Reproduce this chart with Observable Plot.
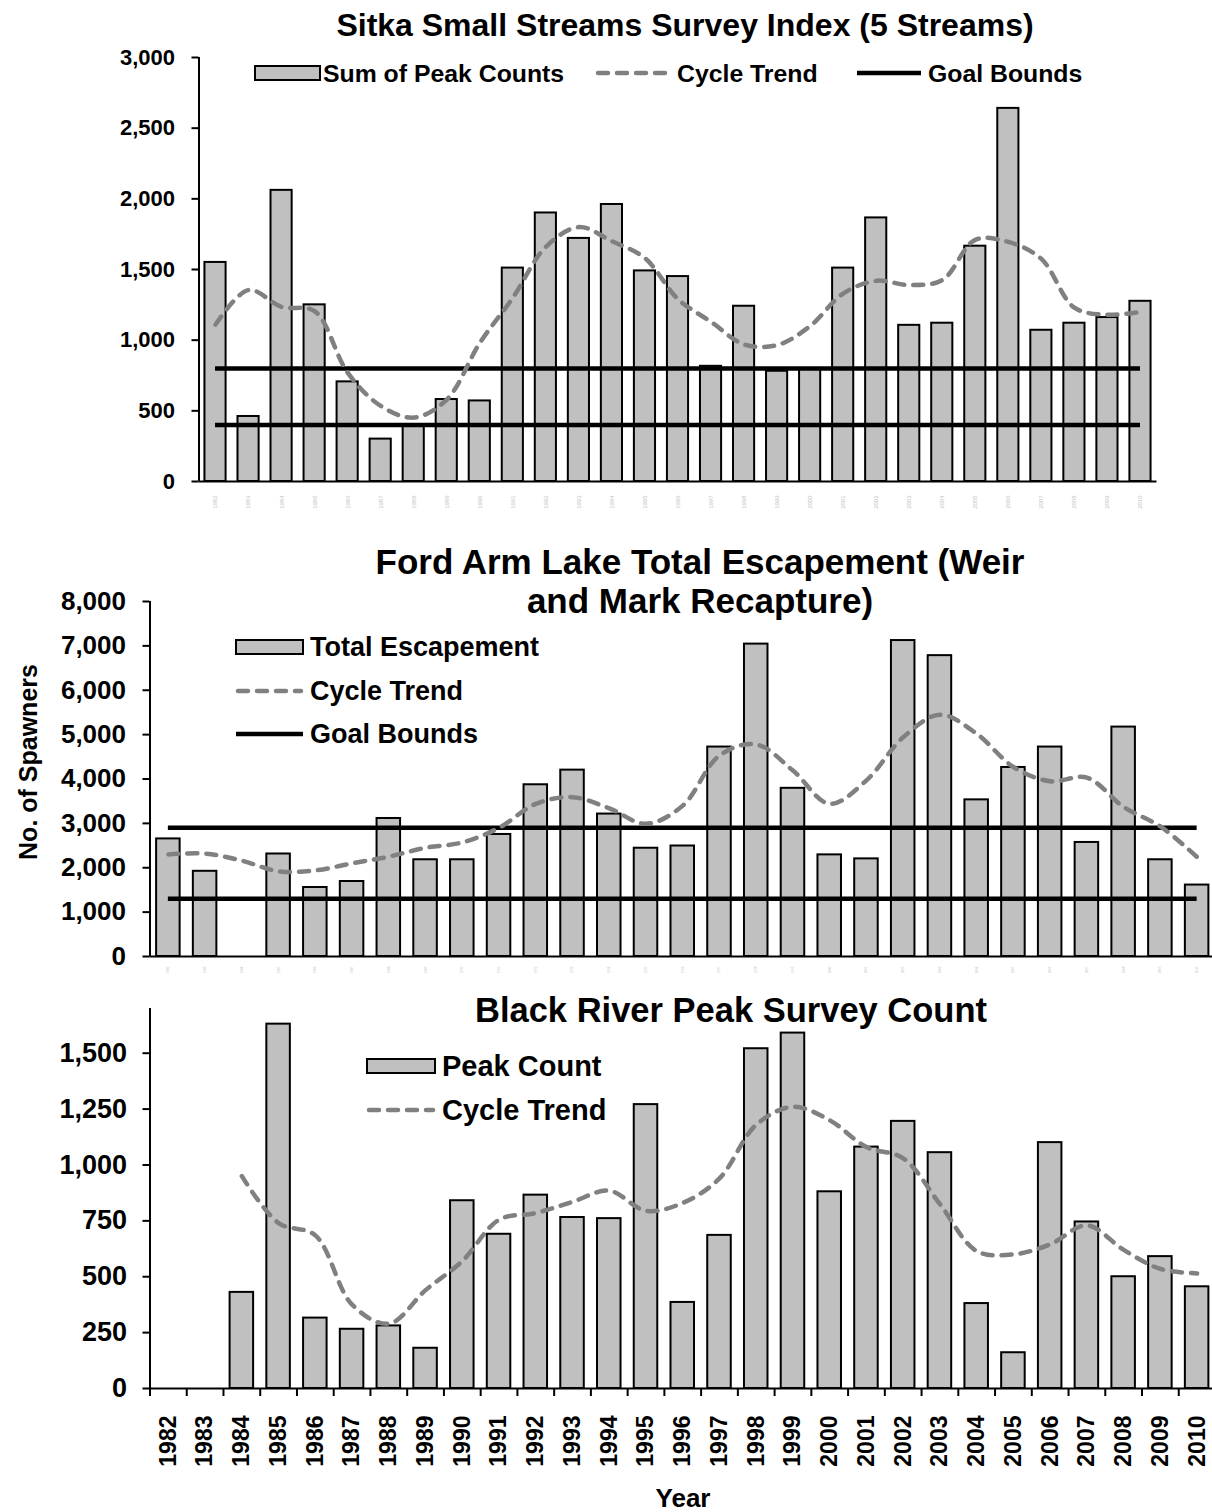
<!DOCTYPE html>
<html><head><meta charset="utf-8">
<script src="https://cdn.jsdelivr.net/npm/d3@7"></script>
<script src="https://cdn.jsdelivr.net/npm/@observablehq/plot@0.6"></script>
<style>
html,body{margin:0;padding:0;background:#fff;}
#root{position:relative;width:1212px;height:1512px;overflow:hidden;background:#fff;font-family:"Liberation Sans",Arial,sans-serif;}
#root svg.panel{position:absolute;left:0;}
#overlay{position:absolute;left:0;top:0;pointer-events:none;}
</style></head><body><div id="root"></div>
<script>
// ---------- data ----------
const years = [1982,1983,1984,1985,1986,1987,1988,1989,1990,1991,1992,1993,1994,1995,1996,1997,1998,1999,2000,2001,2002,2003,2004,2005,2006,2007,2008,2009,2010];

const sitkaCounts = [1550,460,2060,1250,705,300,395,580,570,1510,1900,1720,1960,1490,1450,815,1240,780,795,1510,1865,1105,1120,1665,2640,1070,1120,1160,1275];
const sitkaTrend  = [1110,1355,1235,1205,770,535,452,580,980,1300,1660,1800,1700,1580,1290,1130,970,965,1100,1330,1420,1390,1425,1710,1695,1575,1230,1180,1200];
const sitkaGoal   = [400, 800];
const sitkaTicks  = [0,500,1000,1500,2000,2500,3000];

const fordCounts = [2650,1920,null,2310,1555,1690,3110,2180,2180,2750,3870,4200,3210,2440,2490,4720,7040,3790,2290,2200,7120,6780,3530,4260,4720,2570,5170,2180,1610];
const fordTrend  = [2300,2320,2160,1920,1940,2100,2250,2450,2570,2900,3440,3590,3340,2990,3400,4530,4780,4190,3440,3970,4940,5450,5020,4270,3950,4030,3370,2930,2240];
const fordGoal   = [1300, 2900];
const fordTicks  = [0,1000,2000,3000,4000,5000,6000,7000,8000];

const blackCounts = [null,null,430,1630,315,265,280,180,840,690,865,765,760,1270,385,685,1520,1590,880,1080,1195,1055,380,160,1100,745,500,590,455];
const blackTrend  = [null,null,950,740,685,375,290,440,570,755,785,835,885,795,830,940,1180,1260,1200,1080,1030,825,615,600,645,730,620,535,515];
const blackTicks  = [0,250,500,750,1000,1250,1500];

// ---------- style ----------
const FONT = '"Liberation Sans", Arial, sans-serif';
const BAR_FILL = "#c0c0c0";
const TREND = "#808080";
const DASH = "10,9";

const root = document.getElementById("root");

function rows(counts, trend) {
  return years.map((year, i) => ({year, count: counts[i], trend: trend[i]}));
}

function panel(o) {
  const data = rows(o.counts, o.trend);
  const xDomain = [years[0] - 0.5, years[years.length - 1] + 0.5];
  const bounds = d3.range(years.length + 1).map(i => xDomain[0] + i);
  const marks = [
    Plot.rectY(data.filter(d => d.count != null), {
      x1: d => d.year - 0.32, x2: d => d.year + 0.32, y: "count",
      fill: BAR_FILL, stroke: "black", strokeWidth: 2
    })
  ];
  if (o.goals) {
    marks.push(Plot.ruleY(o.goals, {x1: years[0], x2: years[years.length - 1], y: d => d, stroke: "black", strokeWidth: 4.5}));
  }
  marks.push(Plot.line(data.filter(d => d.trend != null), {
    x: "year", y: "trend", curve: "catmull-rom",
    stroke: TREND, strokeWidth: 4.5, strokeDasharray: DASH, strokeLinecap: "round"
  }));
  marks.push(Plot.ruleY([0], {stroke: "black", strokeWidth: 2}));
  marks.push(Plot.ruleX([xDomain[0]], {stroke: "black", strokeWidth: 2}));
  marks.push(Plot.axisY({
    ticks: o.yTicks, tickSize: 7, tickPadding: o.tickPad, tickFormat: d3.format(","),
    fontSize: o.tickFont, fontWeight: "bold", strokeWidth: 2, label: null
  }));
  if (o.yearAxis) {
    marks.push(Plot.axisX({ticks: bounds, tickSize: 8, strokeWidth: 2, tickFormat: () => "", label: null}));
    marks.push(Plot.axisX({ticks: years, tickSize: 0, tickPadding: 27, tickRotate: -90,
      fontSize: 23, fontWeight: "bold", tickFormat: d => String(d), label: null}));
  } else {
    marks.push(Plot.axisX({ticks: years, tickSize: 0, tickPadding: o.tinyPad, tickRotate: -90,
      fontSize: o.tinyFont, fill: "#c4c4c4", tickFormat: d => String(d), label: null}));
  }
  const svg = Plot.plot({
    width: 1212, height: o.height,
    marginTop: o.mt, marginBottom: o.mb, marginLeft: o.ml, marginRight: o.mr,
    x: {type: "linear", domain: xDomain},
    y: {domain: o.yDomain},
    style: {fontFamily: FONT, background: "transparent", overflow: "visible", color: "black"},
    marks
  });
  svg.classList.add("panel");
  svg.style.top = o.top + "px";
  root.appendChild(svg);
}

panel({counts: sitkaCounts, trend: sitkaTrend, goals: sitkaGoal, yDomain: [0, 3000], yTicks: sitkaTicks,
  top: 40, height: 470, mt: 17, mb: 29, ml: 198.5, mr: 55.5, tickFont: 22, tickPad: 17, tinyFont: 6, tinyPad: 14});
panel({counts: fordCounts, trend: fordTrend, goals: fordGoal, yDomain: [0, 8000], yTicks: fordTicks,
  top: 590, height: 385, mt: 11, mb: 19, ml: 149.5, mr: -3, tickFont: 26, tickPad: 17, tinyFont: 3, tinyPad: 10});
panel({counts: blackCounts, trend: blackTrend, goals: null, yDomain: [0, 1700], yTicks: blackTicks,
  top: 1000, height: 512, mt: 8, mb: 124, ml: 149.5, mr: -3, tickFont: 27, tickPad: 16, yearAxis: true});

// ---------- titles, legends, axis titles ----------
const NS = "http://www.w3.org/2000/svg";
const ov = document.createElementNS(NS, "svg");
ov.setAttribute("id", "overlay");
ov.setAttribute("width", 1212); ov.setAttribute("height", 1512);
ov.style.fontFamily = FONT; ov.style.fontWeight = "bold";
root.appendChild(ov);

function el(tag, attrs, text) {
  const e = document.createElementNS(NS, tag);
  for (const k in attrs) e.setAttribute(k, attrs[k]);
  if (text != null) e.textContent = text;
  ov.appendChild(e);
  return e;
}
function label(x, y, text, size, anchor = "start", extra = {}) {
  return el("text", Object.assign({x, y, "font-size": size, "text-anchor": anchor, "dominant-baseline": "central", fill: "black"}, extra), text);
}
function swatch(kind, x1, x2, y) {
  if (kind === "bar") el("rect", {x: x1, y: y - 7, width: x2 - x1, height: 14, fill: BAR_FILL, stroke: "black", "stroke-width": 2});
  else if (kind === "trend") el("line", {x1: x1 + 2, x2: x2 - 2, y1: y, y2: y, stroke: TREND, "stroke-width": 4.5, "stroke-dasharray": DASH, "stroke-linecap": "round"});
  else el("line", {x1, x2, y1: y, y2: y, stroke: "black", "stroke-width": 4.5});
}

// top panel
label(685, 25, "Sitka Small Streams Survey Index (5 Streams)", 32, "middle");
swatch("bar", 255, 320, 73); label(323, 73, "Sum of Peak Counts", 24.8);
swatch("trend", 596, 670, 73); label(677, 73, "Cycle Trend", 24.8);
swatch("line", 857, 921, 73); label(928, 73, "Goal Bounds", 24.8);

// middle panel
label(700, 561, "Ford Arm Lake Total Escapement (Weir", 35, "middle");
label(700, 600, "and Mark Recapture)", 35, "middle");
swatch("bar", 236, 303, 647); label(310, 647, "Total Escapement", 27);
swatch("trend", 236, 303, 691); label(310, 691, "Cycle Trend", 27);
swatch("line", 236, 303, 734); label(310, 734, "Goal Bounds", 27);
label(0, 0, "No. of Spawners", 25, "middle", {transform: "translate(28,762) rotate(-90)"});

// bottom panel
label(731, 1010, "Black River Peak Survey Count", 34.5, "middle");
swatch("bar", 367, 435, 1066); label(442, 1066, "Peak Count", 29);
swatch("trend", 367, 435, 1110); label(442, 1110, "Cycle Trend", 29);
label(683, 1498, "Year", 26, "middle");
</script></body></html>
